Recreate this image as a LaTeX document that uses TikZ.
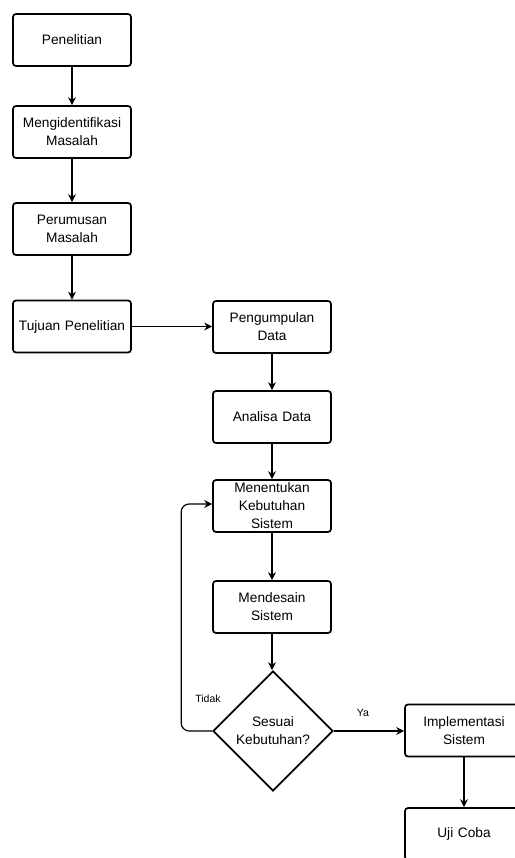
\documentclass[tikz,border=0pt]{standalone}
\usepackage{fontspec}
\setmainfont{Liberation Sans}
\usetikzlibrary{shapes.geometric,arrows.meta}
\begin{document}
\begin{tikzpicture}[x=1pt,y=-1pt,
  box/.style={draw=black, line width=1.7pt, rounded corners=3pt, minimum width=118pt, minimum height=52pt, inner sep=2pt, align=center, font=\fontsize{13.7}{18}\selectfont, text width=114pt},
  dec/.style={draw=black, line width=1.7pt, diamond, minimum width=120pt, minimum height=120pt, inner sep=0pt},
  arr/.style={draw=black, line width=1.2pt, -{Stealth[length=8pt,width=8pt]}},
  lbl/.style={font=\fontsize{10.5}{12}\selectfont, inner sep=0pt}]
\useasboundingbox (0,0) rectangle (514,858);
\node[box] (pen) at (72,40) {Penelitian};
\node[box] (ident) at (72,132) {Mengidentifikasi\\Masalah};
\node[box] (rum) at (72,229) {Perumusan\\Masalah};
\node[box] (tuj) at (72,326.5) {Tujuan Penelitian};
\node[box] (kum) at (272,327) {Pengumpulan\\Data};
\node[box] (ana) at (272,417) {Analisa Data};
\node[box] (ten) at (272,506) {Menentukan\\Kebutuhan\\Sistem};
\node[box] (des) at (272,607) {Mendesain\\Sistem};
\node[dec] (dec) at (273,731) {};
\node[align=center, font=\fontsize{13.7}{18}\selectfont] (dectxt) at (dec) {Sesuai\\Kebutuhan?};
\node[box] (imp) at (464,730.5) {Implementasi\\Sistem};
\node[box] (uji) at (464,834) {Uji Coba};
\draw[arr] (pen) -- (ident);
\draw[arr] (ident) -- (rum);
\draw[arr] (rum) -- (tuj);
\draw[arr] (tuj.east) -- (kum.west |- tuj.east);
\draw[arr] (kum) -- (ana);
\draw[arr] (ana) -- (ten);
\draw[arr] (ten) -- (des);
\draw[arr] (des.south) -- (dec.north -| des.south);
\draw[arr] (dec.east) -- (imp.west |- dec.east);
\draw[arr] (imp) -- (uji);
\draw[arr, rounded corners=8pt] (dec.west) -- ++(-31pt,0) |- ([yshift=2pt]ten.west);
\node[lbl] (tidak) at (208,699) {Tidak};
\node[lbl] (ya) at (363,713) {Ya};
\end{tikzpicture}
\end{document}
